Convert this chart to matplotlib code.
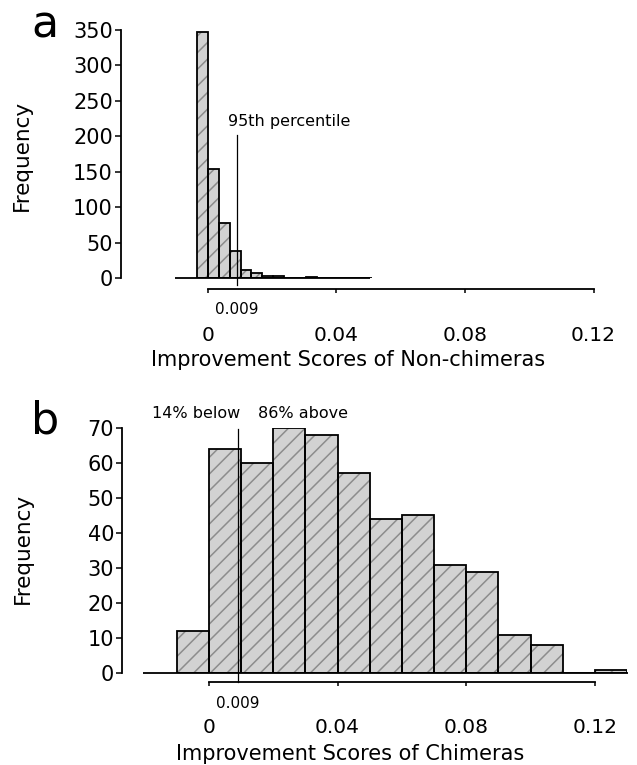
import matplotlib
matplotlib.use('Agg')
import matplotlib.pyplot as plt

# ---------------- data ----------------
# Panel a: improvement scores of non-chimeras
a_bin_left = [-0.0034, 0.0, 0.0034, 0.0068, 0.0102, 0.0136, 0.0170, 0.0204,
              0.0238, 0.0272, 0.0306, 0.0340, 0.0374, 0.0408, 0.0442, 0.0476]
a_bin_width = 0.0034
a_counts = [347, 154, 78, 38, 12, 8, 3, 3, 1, 1, 2, 0, 0, 0, 0, 0]
a_yticks = [0, 50, 100, 150, 200, 250, 300, 350]
a_percentile = 0.009

# Panel b: improvement scores of chimeras
b_bin_left = [-0.01, 0.0, 0.01, 0.02, 0.03, 0.04, 0.05, 0.06, 0.07, 0.08,
              0.09, 0.10, 0.11, 0.12]
b_bin_width = 0.01
b_counts = [12, 64, 60, 70, 68, 57, 44, 45, 31, 29, 11, 8, 0, 1]
b_yticks = [0, 10, 20, 30, 40, 50, 60, 70]
b_cut = 0.009

x_ticks = [0, 0.04, 0.08, 0.12]
x_ticklabels = ['0', '0.04', '0.08', '0.12']

# ---------------- style ----------------
W, H = 637, 765
DPI = 100
PX = 72.0 / DPI  # points per pixel
FACE = '#d2d2d2'
HATCHC = '#8c8c8c'
plt.rcParams['font.family'] = ['DejaVu Sans']
plt.rcParams['hatch.linewidth'] = 1.1

fig = plt.figure(figsize=(W / DPI, H / DPI), dpi=DPI)
fig.patch.set_facecolor('white')


def fr(x0, y_top, x1, y_bot):
    return [x0 / W, 1 - y_bot / H, (x1 - x0) / W, (y_bot - y_top) / H]


def setup(ax, ymax, yticks, outward_px, base_lo, base_hi):
    ax.set_xlim(-0.027, 0.13)
    ax.set_ylim(0, ymax)
    for s in ['top', 'right']:
        ax.spines[s].set_visible(False)
    ax.spines['left'].set_bounds(0, ymax)
    ax.spines['left'].set_linewidth(1.3)
    ax.spines['bottom'].set_position(('outward', outward_px * PX))
    ax.spines['bottom'].set_bounds(0, 0.12)
    ax.spines['bottom'].set_linewidth(1.3)
    ax.set_yticks(yticks)
    ax.set_yticklabels([str(v) for v in yticks])
    ax.set_xticks(x_ticks)
    ax.set_xticklabels(x_ticklabels)
    ax.tick_params(axis='y', direction='out', length=6 * PX, width=1.1,
                   pad=2 * PX, labelsize=15)
    ax.tick_params(axis='x', direction='out', length=4.2 * PX, width=1.1,
                   pad=(36.5 - 4.2) * PX, labelsize=14.5)
    ax.set_facecolor('none')
    ax.plot([base_lo, base_hi], [0, 0], color='black', lw=1.3,
            clip_on=False, zorder=4, solid_capstyle='butt')


def bars(ax, lefts, counts, width):
    ax.bar(lefts, counts, width=width, align='edge', color=FACE,
           edgecolor=HATCHC, hatch='//', linewidth=0, zorder=2)
    ax.bar(lefts, counts, width=width, align='edge', fill=False,
           edgecolor='black', linewidth=1.3, zorder=3)


# ---------------- panel a ----------------
axa = fig.add_axes(fr(120.9, 30, 625.7, 278.3))
setup(axa, 350, a_yticks, 11, -0.0102, 0.0505)
bars(axa, a_bin_left, a_counts, a_bin_width)
axa.plot([a_percentile, a_percentile], [202, -9.4], color='black', lw=0.9,
         clip_on=False, zorder=5)
axa.text(0.0063, 220.5, '95th percentile', ha='left', va='center',
         fontsize=11.5)
axa.annotate('0.009', xy=(a_percentile, 0), xycoords=('data', 'axes fraction'),
             xytext=(0, -31.2 * PX), textcoords='offset points',
             ha='center', va='center', fontsize=11)
axa.annotate('Improvement Scores of Non-chimeras', xy=(0.0436, 0),
             xycoords=('data', 'axes fraction'),
             xytext=(0, -87.2 * PX), textcoords='offset points',
             ha='center', va='baseline', fontsize=15)

# ---------------- panel b ----------------
axb = fig.add_axes(fr(122.1, 427.7, 627.1, 673.3))
setup(axb, 70, b_yticks, 8.4, -0.0205, 0.1302)
bars(axb, b_bin_left, b_counts, b_bin_width)
axb.plot([b_cut, b_cut], [69.6, -2.4], color='black', lw=0.9,
         clip_on=False, zorder=5)
axb.text(0.00985, 74.1, '14% below', ha='right', va='center', fontsize=11.5)
axb.text(0.01523, 74.1, '86% above', ha='left', va='center', fontsize=11.5)
axb.annotate('0.009', xy=(b_cut, 0), xycoords=('data', 'axes fraction'),
             xytext=(0, -30.7 * PX), textcoords='offset points',
             ha='center', va='center', fontsize=11)
axb.annotate('Improvement Scores of Chimeras', xy=(0.0438, 0),
             xycoords=('data', 'axes fraction'),
             xytext=(0, -87.2 * PX), textcoords='offset points',
             ha='center', va='baseline', fontsize=15)

# ---------------- labels ----------------
fig.text(22 / W, 1 - 155.7 / H, 'Frequency', rotation=90, ha='center',
         va='center', fontsize=15.5)
fig.text(23 / W, 1 - 548 / H, 'Frequency', rotation=90, ha='center',
         va='center', fontsize=15.5)
fig.text(45 / W, 1 - 38 / H, 'a', ha='center', va='baseline', fontsize=32)
fig.text(45 / W, 1 - 433 / H, 'b', ha='center', va='baseline', fontsize=32)

fig.savefig('out.png', dpi=DPI, facecolor='white')
